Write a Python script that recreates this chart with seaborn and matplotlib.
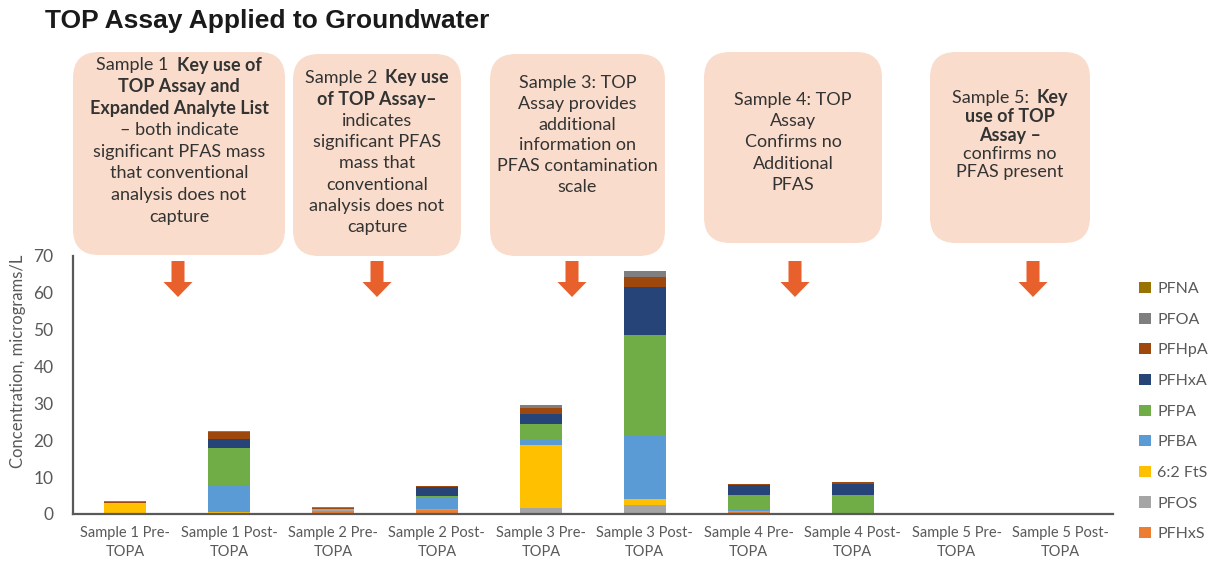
import seaborn as sns
import matplotlib.pyplot as plt
import pandas as pd
from matplotlib.patches import FancyBboxPatch, FancyArrow

# Donnees (microgrammes/L)
samples = ["Sample 1 Pre-\nTOPA", "Sample 1 Post-\nTOPA", "Sample 2 Pre-\nTOPA", "Sample 2 Post-\nTOPA",
           "Sample 3 Pre-\nTOPA", "Sample 3 Post-\nTOPA", "Sample 4 Pre-\nTOPA", "Sample 4 Post-\nTOPA",
           "Sample 5 Pre-\nTOPA", "Sample 5 Post-\nTOPA"]
analytes = ["PFNA", "PFOA", "PFHpA", "PFHxA", "PFPA", "PFBA", "6:2 FtS", "PFOS", "PFHxS"]
colors = ["#997300", "#7f7f7f", "#9e480e", "#264478", "#70ad47", "#5b9bd5", "#ffc000", "#a5a5a5", "#ed7d31"]

pfhxs = [0.1, 0.2, 0.9, 1.2, 0.0, 0.0, 0.5, 0.1, 0, 0]
pfos = [0.1, 0.1, 0.4, 0.1, 1.5, 2.5, 0.2, 0.1, 0, 0]
fts62 = [2.8, 0.2, 0.0, 0.0, 17.1, 1.6, 0.0, 0.0, 0, 0]
pfba = [0.0, 7.4, 0.0, 3.4, 1.5, 17.2, 0.4, 0.1, 0, 0]
pfpa = [0.0, 10.0, 0.0, 0.1, 4.4, 27.2, 4.1, 4.9, 0, 0]
pfhxa = [0.0, 2.5, 0.0, 2.4, 2.5, 13.1, 2.6, 3.0, 0, 0]
pfhpa = [0.2, 1.8, 0.2, 0.3, 1.8, 2.6, 0.3, 0.4, 0, 0]
pfoa = [0.3, 0.2, 0.5, 0.0, 0.7, 1.6, 0.0, 0.0, 0, 0]
pfna = [0.0, 0.0, 0.0, 0.0, 0.1, 0.2, 0.0, 0.0, 0, 0]

series = dict(zip(analytes, [pfna, pfoa, pfhpa, pfhxa, pfpa, pfba, fts62, pfos, pfhxs]))

rows = []
for a in analytes:
    for s, v in zip(samples, series[a]):
        rows.append({"sample": s, "analyte": a, "value": v})
df = pd.DataFrame(rows)
df["sample"] = pd.Categorical(df["sample"], categories=samples, ordered=True)

# Textes des encadres
boxes = [
    (73, 52, 285, 255, 65, 21.7, [
        [("Sample 1", "normal"), ("Key use of", "bold")],
        [("TOP Assay and", "bold")],
        [("Expanded Analyte List", "bold")],
        [("– both indicate", "normal")],
        [("significant PFAS mass", "normal")],
        [("that conventional", "normal")],
        [("analysis does not", "normal")],
        [("capture", "normal")]]),
    (293, 54, 461, 256, 78, 21.3, [
        [("Sample 2", "normal"), ("Key use", "bold")],
        [("of TOP Assay–", "bold")],
        [("indicates", "normal")],
        [("significant PFAS", "normal")],
        [("mass that", "normal")],
        [("conventional", "normal")],
        [("analysis does not", "normal")],
        [("capture", "normal")]]),
    (490, 54, 665, 256, 83, 20.8, [
        [("Sample 3: TOP", "normal")],
        [("Assay provides", "normal")],
        [("additional", "normal")],
        [("information on", "normal")],
        [("PFAS contamination", "normal")],
        [("scale", "normal")]]),
    (704, 52, 882, 243, 100, 21.2, [
        [("Sample 4: TOP", "normal")],
        [("Assay", "normal")],
        [("Confirms no", "normal")],
        [("Additional", "normal")],
        [("PFAS", "normal")]]),
    (930, 52, 1090, 243, 98, 18.6, [
        [("Sample 5:", "normal"), ("Key", "bold")],
        [("use of TOP", "bold")],
        [("Assay –", "bold")],
        [("confirms no", "normal")],
        [("PFAS present", "normal")]]),
]
arrow_x = [178, 377, 572, 795, 1033]

sns.set_style("white")
plt.rcParams["font.family"] = ["Lato", "DejaVu Sans"]

fig = plt.figure(figsize=(12.16, 5.64), dpi=100)
ax = fig.add_axes([0.060, 0.0887, 0.855, 0.4574])

sns.histplot(data=df, x="sample", weights="value", hue="analyte", hue_order=analytes,
             palette=colors, multiple="stack", discrete=True, shrink=0.4,
             linewidth=0, alpha=1, ax=ax)

ax.set_xlim(-0.5, 9.5)
ax.set_ylim(0, 70)
ax.set_yticks(range(0, 71, 10))
ax.set_xlabel("")
ax.set_ylabel("Concentration, micrograms/L", fontsize=12, color="#595959")
ax.yaxis.set_label_coords(-0.045, 0.59)
ax.tick_params(axis="both", length=0, colors="#595959")
ax.tick_params(axis="y", labelsize=12.5, pad=14)
ax.tick_params(axis="x", labelsize=10.5, pad=9)
for lab in ax.get_xticklabels():
    lab.set_linespacing(1.45)
sns.despine(ax=ax)
for sp in ["left", "bottom"]:
    ax.spines[sp].set_color("#595959")
    ax.spines[sp].set_linewidth(1.6)

sns.move_legend(ax, "upper left", bbox_to_anchor=(1.012, 0.955), frameon=False, title=None,
                fontsize=11.5, handlelength=0.7, handleheight=0.7, handletextpad=0.4,
                labelspacing=1.03, labelcolor="#595959")

# Calque en pixels pour les encadres et les fleches
over = fig.add_axes([0, 0, 1, 1], facecolor="none")
over.set_xlim(0, 1216)
over.set_ylim(564, 0)
over.axis("off")

over.text(45, 21, "TOP Assay Applied to Groundwater", fontsize=19, fontweight="bold",
          family="Liberation Sans", color="#1a1a1a", va="center", ha="left")

renderer = fig.canvas.get_renderer()
for x0, y0, x1, y1, ly, step, lines in boxes:
    over.add_patch(FancyBboxPatch((x0, y0), x1 - x0, y1 - y0,
                                  boxstyle="round,pad=0,rounding_size=26",
                                  facecolor="#f9dccb", edgecolor="none"))
    cx = (x0 + x1) / 2
    for i, parts in enumerate(lines):
        y = ly + i * step
        txts = [over.text(0, y, s, fontsize=13, fontweight=w, color="#333333",
                          va="center", ha="left") for s, w in parts]
        widths = [t.get_window_extent(renderer).width for t in txts]
        gap = 8
        total = sum(widths) + gap * (len(txts) - 1)
        x = cx - total / 2
        for t, w in zip(txts, widths):
            t.set_x(x)
            x += w + gap

for x in arrow_x:
    over.add_patch(FancyArrow(x, 261, 0, 36, width=13, head_width=29, head_length=15,
                              length_includes_head=True, color="#e8612c", linewidth=0))

fig.savefig("out.png", dpi=100)
